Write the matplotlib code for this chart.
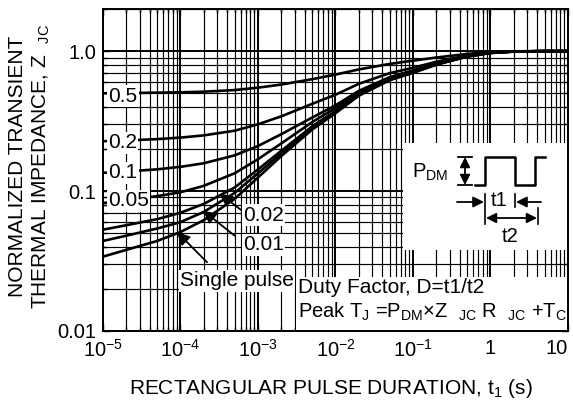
import matplotlib.pyplot as plt
from matplotlib.ticker import FixedLocator, FixedFormatter, LogLocator, NullFormatter
from matplotlib.patches import Rectangle

plt.rcParams['font.family'] = ['Liberation Sans', 'DejaVu Sans']
plt.rcParams['mathtext.default'] = 'regular'
plt.rcParams['font.size'] = 15

# --- valores ---
t_pulse = [1e-5, 2e-5, 5e-5, 1e-4, 2e-4, 5e-4, 1e-3, 2e-3, 5e-3, 1e-2,
           2e-2, 5e-2, 0.1, 0.2, 0.5, 1, 2, 5, 10]
z_050 = [0.500, 0.502, 0.505, 0.508, 0.513, 0.527, 0.548, 0.577, 0.630, 0.680,
         0.740, 0.810, 0.855, 0.900, 0.955, 0.985, 0.997, 1.0, 1.0]
z_020 = [0.227, 0.230, 0.235, 0.241, 0.250, 0.270, 0.300, 0.342, 0.420, 0.488,
         0.584, 0.696, 0.760, 0.840, 0.932, 0.976, 0.994, 1.0, 1.0]
z_010 = [0.135, 0.138, 0.143, 0.149, 0.158, 0.180, 0.210, 0.255, 0.335, 0.410,
         0.520, 0.652, 0.727, 0.818, 0.923, 0.973, 0.994, 1.0, 1.0]
z_005 = [0.082, 0.086, 0.092, 0.098, 0.109, 0.134, 0.169, 0.219, 0.311, 0.392,
         0.506, 0.639, 0.715, 0.810, 0.919, 0.972, 0.993, 1.0, 1.0]
z_002 = [0.053, 0.057, 0.063, 0.070, 0.081, 0.106, 0.143, 0.194, 0.290, 0.373,
         0.490, 0.628, 0.706, 0.804, 0.917, 0.971, 0.993, 1.0, 1.0]
z_001 = [0.044, 0.048, 0.054, 0.060, 0.071, 0.097, 0.134, 0.186, 0.282, 0.366,
         0.485, 0.624, 0.703, 0.802, 0.916, 0.970, 0.993, 1.0, 1.0]
z_single = [0.034, 0.038, 0.044, 0.051, 0.062, 0.088, 0.125, 0.178, 0.275, 0.360,
            0.480, 0.620, 0.700, 0.800, 0.915, 0.970, 0.993, 1.0, 1.0]

curvas = [z_050, z_020, z_010, z_005, z_002, z_001, z_single]

x_ticks = [1e-5, 1e-4, 1e-3, 1e-2, 1e-1, 1, 10]
x_labels = ['$10^{-5}$', '$10^{-4}$', '$10^{-3}$', '$10^{-2}$', '$10^{-1}$', '1', '10']
y_ticks = [0.01, 0.1, 1.0]
y_labels = ['0.01', '0.1', '1.0']

W, H = 573, 403
fig = plt.figure(figsize=(W / 100, H / 100), dpi=100)
ax = fig.add_axes([103 / W, 1 - 331 / H, 465 / W, 322 / H])

def px(x, y):
    # pixel de la imagen (origen arriba-izquierda) -> figure pixels
    return (x, H - y)

for z in curvas:
    ax.plot(t_pulse, z, color='k', lw=1.9, zorder=3, solid_capstyle='butt')

ax.set_xscale('log')
ax.set_yscale('log')
ax.set_xlim(1e-5, 10)
ax.set_ylim(0.01, 2.0)

ax.xaxis.set_major_locator(FixedLocator(x_ticks))
ax.xaxis.set_major_formatter(FixedFormatter(x_labels))
ax.yaxis.set_major_locator(FixedLocator(y_ticks))
ax.yaxis.set_major_formatter(FixedFormatter(y_labels))
ax.xaxis.set_minor_locator(LogLocator(base=10, subs=range(2, 10), numticks=20))
ax.yaxis.set_minor_locator(LogLocator(base=10, subs=range(2, 10), numticks=20))
ax.xaxis.set_minor_formatter(NullFormatter())
ax.yaxis.set_minor_formatter(NullFormatter())

ax.tick_params(which='both', direction='in', top=True, right=True, width=1.0)
ax.tick_params(which='major', length=5, labelsize=14.5)
ax.tick_params(which='minor', length=3)
ax.tick_params(axis='x', pad=6)
ax.tick_params(axis='y', pad=5)

# el "10" del final no cabe centrado
ult = ax.get_xticklabels()[-1]
ult.set_horizontalalignment('right')

ax.grid(which='major', color='k', lw=1.4)
ax.grid(which='minor', color='k', lw=0.85)
ax.set_axisbelow(True)
for s in ax.spines.values():
    s.set_linewidth(1.4)

# cajas blancas (recuadro de pulso y formula)
for (x0, y0, x1, y1) in [(403, 143, 568, 250), (296, 277, 568, 331)]:
    r = Rectangle((x0 / W, 1 - y1 / H), (x1 - x0) / W, (y1 - y0) / H,
                  transform=fig.transFigure, facecolor='white', edgecolor='none', zorder=1)
    ax.add_patch(r)

# etiquetas de las curvas
bb = dict(facecolor='white', edgecolor='none', pad=1.0)
for txt, yy in [('0.5', 96), ('0.2', 143), ('0.1', 173), ('0.05', 201)]:
    fig.text(108 / W, 1 - yy / H, txt, ha='left', va='center', bbox=bb)
fig.text(243 / W, 1 - 215 / H, '0.02', ha='left', va='center', bbox=bb)
fig.text(243 / W, 1 - 245 / H, '0.01', ha='left', va='center', bbox=bb)
fig.text(180 / W, 1 - 281 / H, 'Single pulse', ha='left', va='center', bbox=bb)

flecha = dict(arrowstyle='-|>', color='k', lw=1.3, mutation_scale=19, shrinkA=0, shrinkB=0)
ax.annotate('', xy=(3.2e-4, 0.096), xytext=(6.2e-4, 0.0725), arrowprops=flecha, zorder=4)
ax.annotate('', xy=(1.95e-4, 0.0725), xytext=(5.0e-4, 0.048), arrowprops=flecha, zorder=4)
ax.annotate('', xy=(9.0e-5, 0.051), xytext=(2.2e-4, 0.031), arrowprops=flecha, zorder=4)

# --- recuadro del pulso ---
fig.text(412 / W, 1 - 178 / H, 'P$_{DM}$', ha='left', va='baseline', fontsize=14.5)
doble = dict(arrowstyle='<|-|>', color='k', lw=1.3, mutation_scale=15, shrinkA=0, shrinkB=0)
flecha_p = dict(arrowstyle='-|>', color='k', lw=1.3, mutation_scale=16, shrinkA=0, shrinkB=0)
ax.annotate('', xy=px(465, 157), xytext=px(465, 185), xycoords='figure pixels',
            textcoords='figure pixels', arrowprops=doble, zorder=4)
ax.plot([458 / W, 472 / W], [1 - 157 / H] * 2, color='k', lw=1.3, transform=fig.transFigure, zorder=4)
ax.plot([458 / W, 472 / W], [1 - 185 / H] * 2, color='k', lw=1.3, transform=fig.transFigure, zorder=4)
pulso_x = [475, 485, 485, 515, 515, 535, 535, 545]
pulso_y = [185, 185, 157, 157, 185, 185, 157, 157]
ax.plot([v / W for v in pulso_x], [1 - v / H for v in pulso_y], color='k', lw=1.8,
        transform=fig.transFigure, zorder=4)

ax.plot([485 / W] * 2, [1 - 194 / H, 1 - 224 / H], color='k', lw=1.2, transform=fig.transFigure, zorder=4)
ax.plot([515 / W] * 2, [1 - 194 / H, 1 - 207 / H], color='k', lw=1.2, transform=fig.transFigure, zorder=4)
ax.plot([538 / W] * 2, [1 - 208 / H, 1 - 224 / H], color='k', lw=1.2, transform=fig.transFigure, zorder=4)
ax.annotate('', xy=px(484, 202), xytext=px(457, 202), xycoords='figure pixels',
            textcoords='figure pixels', arrowprops=flecha_p, zorder=4)
ax.annotate('', xy=px(516, 202), xytext=px(541, 202), xycoords='figure pixels',
            textcoords='figure pixels', arrowprops=flecha_p, zorder=4)
ax.annotate('', xy=px(486, 218), xytext=px(537, 218), xycoords='figure pixels',
            textcoords='figure pixels', arrowprops=doble, zorder=4)
fig.text(499 / W, 1 - 200 / H, 't1', ha='center', va='center', fontsize=14.5)
fig.text(510 / W, 1 - 237 / H, 't2', ha='center', va='center', fontsize=14.5)

# formula
fig.text(298 / W, 1 - 293 / H, 'Duty Factor, D=t1/t2', ha='left', va='baseline')
fig.text(298 / W, 1 - 318 / H,
         'Peak T$_J$ =P$_{DM}$\u00d7Z  $_{JC}$ R  $_{JC}$ +T$_C$',
         ha='left', va='baseline', fontsize=14.5)

# titulos de ejes
fig.text(331 / W, 1 - 388 / H, 'RECTANGULAR PULSE DURATION, t$_1$ (s)',
         ha='center', va='center')
fig.text(30 / W, 1 - 166 / H, 'NORMALIZED TRANSIENT\nTHERMAL IMPEDANCE, Z  $_{JC}$',
         ha='center', va='center', rotation=90, linespacing=1.2)

fig.savefig('out.png', dpi=100)
